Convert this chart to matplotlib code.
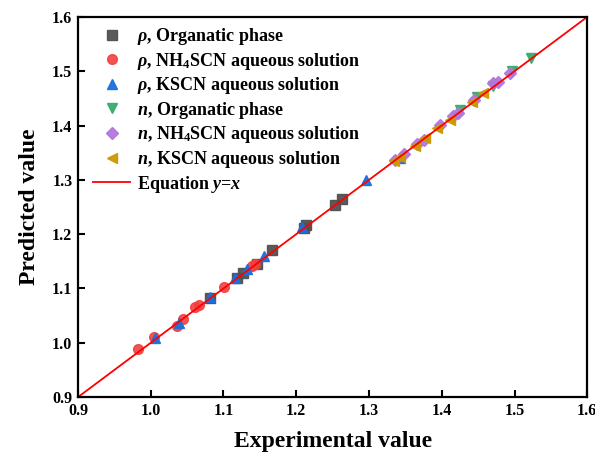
import numpy as np
import matplotlib as mpl
import matplotlib.pyplot as plt

mpl.rcParams['font.family'] = 'Liberation Serif'
mpl.rcParams['font.weight'] = 'bold'
mpl.rcParams['mathtext.fontset'] = 'custom'
mpl.rcParams['mathtext.rm'] = 'Liberation Serif:bold'
mpl.rcParams['mathtext.it'] = 'Liberation Serif:italic:bold'
mpl.rcParams['mathtext.bf'] = 'Liberation Serif:bold'

# rho, organic phase
rho_org_x = [1.082, 1.118, 1.127, 1.146, 1.167, 1.210, 1.214, 1.253, 1.263]
rho_org_y = [1.082, 1.120, 1.129, 1.146, 1.171, 1.211, 1.217, 1.254, 1.264]
# rho, NH4SCN
rho_nh4_x = [0.983, 1.005, 1.036, 1.045, 1.061, 1.066, 1.101, 1.139, 1.143]
rho_nh4_y = [0.989, 1.011, 1.031, 1.044, 1.066, 1.070, 1.102, 1.141, 1.145]
# rho, KSCN
rho_k_x = [1.006, 1.039, 1.081, 1.116, 1.132, 1.156, 1.208, 1.296, 1.343]
rho_k_y = [1.008, 1.036, 1.085, 1.119, 1.135, 1.159, 1.214, 1.299, 1.340]
# n, organic phase
n_org_x = [1.425, 1.448, 1.471, 1.497, 1.522]
n_org_y = [1.428, 1.453, 1.473, 1.501, 1.524]
# n, NH4SCN
n_nh4_x = [1.336, 1.348, 1.366, 1.375, 1.398, 1.416, 1.423, 1.444, 1.471, 1.478, 1.494]
n_nh4_y = [1.337, 1.348, 1.366, 1.373, 1.401, 1.417, 1.424, 1.447, 1.478, 1.481, 1.497]
# n, KSCN
n_k_x = [1.334, 1.343, 1.363, 1.377, 1.393, 1.411, 1.442, 1.457]
n_k_y = [1.335, 1.343, 1.362, 1.377, 1.395, 1.411, 1.444, 1.459]

fig = plt.figure(figsize=(5.95, 4.57), dpi=100)
ax = fig.add_axes([0.131, 0.131, 0.856, 0.832])

ms = 6.5
ax.plot(rho_org_x, rho_org_y, 's', color='#515151', ms=ms, ls='none', alpha=0.95,
        label=r'$\rho$, Organatic phase')
ax.plot(rho_nh4_x, rho_nh4_y, 'o', color='#F14040', ms=ms + 0.5, ls='none', alpha=0.9,
        label=r'$\rho$, NH$_4$SCN aqueous solution')
ax.plot(rho_k_x, rho_k_y, '^', color='#1A6FDF', ms=ms + 0.5, ls='none', alpha=0.95,
        label=r'$\rho$, KSCN aqueous solution')
ax.plot(n_org_x, n_org_y, 'v', color='#37AD6B', ms=ms + 0.5, ls='none', alpha=0.95,
        label=r'$n$, Organatic phase')
ax.plot(n_nh4_x, n_nh4_y, 'D', color='#B177DE', ms=ms - 0.5, ls='none', alpha=0.95,
        label=r'$n$, NH$_4$SCN aqueous solution')
ax.plot(n_k_x, n_k_y, '<', color='#CC9900', ms=ms + 0.5, ls='none', alpha=0.95,
        label=r'$n$, KSCN aqueous solution')

line = np.array([0.9, 1.6])
ax.plot(line, line, color='#FF0000', lw=1.3, label=r'Equation $y$=$x$')

ax.set_xlim(0.9, 1.6)
ax.set_ylim(0.9, 1.6)
ax.set_xticks(np.arange(0.9, 1.61, 0.1))
ax.set_yticks(np.arange(0.9, 1.61, 0.1))
ax.xaxis.set_major_formatter(mpl.ticker.FormatStrFormatter('%.1f'))
ax.yaxis.set_major_formatter(mpl.ticker.FormatStrFormatter('%.1f'))
ax.tick_params(direction='in', length=5, width=1.5, labelsize=11.5, pad=4)
for s in ax.spines.values():
    s.set_linewidth(1.6)

ax.set_xlabel('Experimental value', fontsize=17, fontweight='bold', labelpad=9)
ax.set_ylabel('Predicted value', fontsize=17, fontweight='bold', labelpad=9)

ax.legend(loc='upper left', frameon=False, fontsize=13, labelspacing=0.2,
          handlelength=2.1, handletextpad=0.35, borderaxespad=0.1,
          bbox_to_anchor=(0.011, 1.0))

fig.savefig('out.png', dpi=100)
